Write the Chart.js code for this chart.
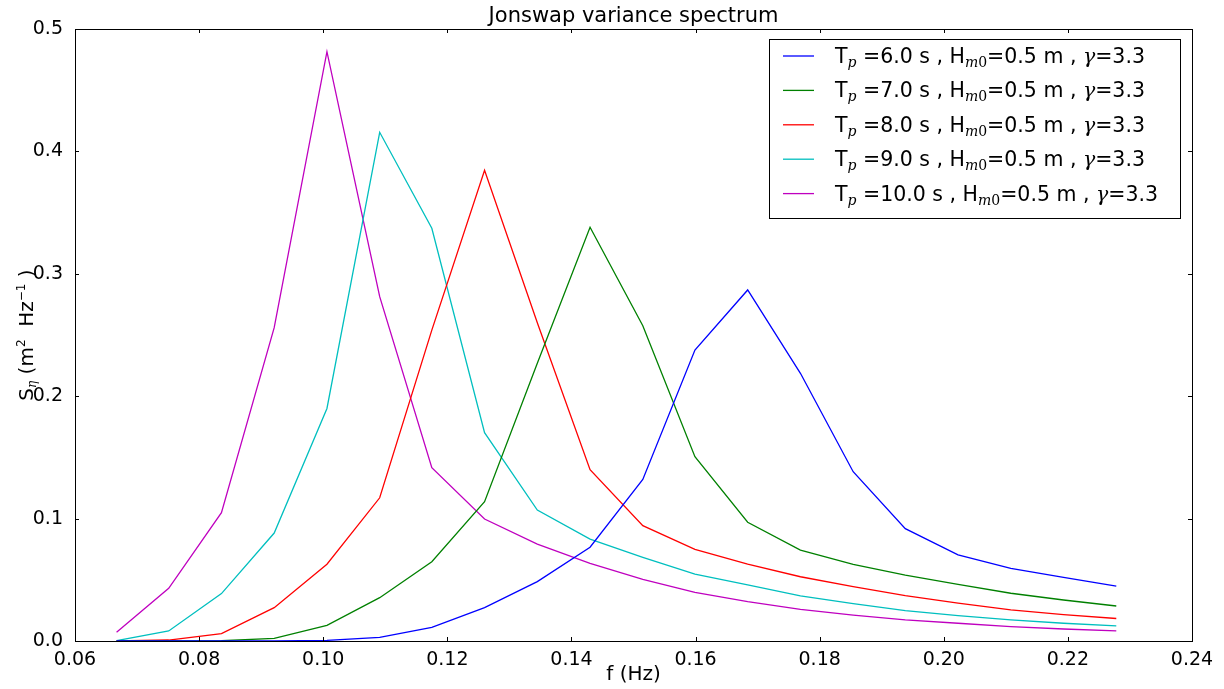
<!DOCTYPE html>
<html>
<head>
<meta charset="utf-8">
<script src="https://cdn.jsdelivr.net/npm/chart.js@4.4.1/dist/chart.umd.min.js"></script>
<style>
  html, body { margin: 0; padding: 0; background: #fff; }
</style>
</head>
<body>
<canvas id="spectrumChart" width="1224" height="689"></canvas>
<script>
// Frequencies (Hz) of the spectrum samples
const freqs = [0.0667, 0.0751, 0.0836, 0.0921, 0.1006, 0.1091, 0.1175, 0.1260, 0.1345, 0.1430,
               0.1515, 0.1599, 0.1684, 0.1769, 0.1854, 0.1938, 0.2023, 0.2108, 0.2193, 0.2278];

// Peak periods (s) and shared parameters
const peakPeriods = [6.0, 7.0, 8.0, 9.0, 10.0];
const hm0 = 0.5;
const gammaPeak = 3.3;

// Variance density S (m2/Hz), one list per peak period
const sTp6  = [0, 0, 0, 0.0001, 0.0005, 0.0030, 0.0112, 0.0272, 0.0485, 0.0766,
               0.1320, 0.2377, 0.2868, 0.2187, 0.1383, 0.0918, 0.0703, 0.0594, 0.0520, 0.0449];
const sTp7  = [0, 0, 0.0002, 0.0022, 0.0128, 0.0354, 0.0648, 0.1138, 0.2270, 0.3380,
               0.2576, 0.1506, 0.0970, 0.0743, 0.0626, 0.0539, 0.0463, 0.0390, 0.0335, 0.0286];
const sTp8  = [0, 0.0008, 0.0060, 0.0272, 0.0627, 0.1170, 0.2540, 0.3846, 0.2600, 0.1400,
               0.0942, 0.0749, 0.0629, 0.0525, 0.0444, 0.0370, 0.0310, 0.0255, 0.0215, 0.0184];
const sTp9  = [0.0003, 0.0082, 0.0387, 0.0882, 0.1900, 0.4156, 0.3372, 0.1702, 0.1070, 0.0833,
               0.0684, 0.0547, 0.0458, 0.0368, 0.0305, 0.0248, 0.0207, 0.0172, 0.0145, 0.0123];
const sTp10 = [0.0071, 0.0430, 0.1048, 0.2560, 0.4815, 0.2813, 0.1416, 0.0997, 0.0792, 0.0635,
               0.0504, 0.0398, 0.0321, 0.0259, 0.0212, 0.0172, 0.0145, 0.0117, 0.0098, 0.0082];

const series = [sTp6, sTp7, sTp8, sTp9, sTp10];
const colors = ['#0000ff', '#008000', '#ff0000', '#00bfbf', '#bf00bf'];

// Axis ticks
const xTicks = [0.06, 0.08, 0.10, 0.12, 0.14, 0.16, 0.18, 0.20, 0.22, 0.24];
const yTicks = [0.0, 0.1, 0.2, 0.3, 0.4, 0.5];

const chartTitle = 'Jonswap variance spectrum';

const SANS = "'DejaVu Sans', sans-serif";
const SERIF_IT = "italic 14px 'DejaVu Serif', serif";

// draw a run of text pieces [text, font, dy] left to right, returns end x
function drawRich(ctx, x, y, parts, measureOnly) {
    for (const p of parts) {
        ctx.font = p[1];
        if (!measureOnly) ctx.fillText(p[0], x, y + p[2]);
        x += ctx.measureText(p[0]).width;
    }
    return x;
}

function legendParts(tp) {
    const main = '20.5px ' + SANS;
    return [
        ['T', main, 0],
        ['p', SERIF_IT, 4],
        [' =' + tp.toFixed(1) + ' s , H', main, 0],
        ['m', SERIF_IT, 4],
        ['0', "14px 'DejaVu Serif', serif", 4],
        ['=' + hm0 + ' m , ', main, 0],
        ['\u03b3', "italic 20.5px 'DejaVu Serif', serif", 0],
        ['=' + gammaPeak, main, 0]
    ];
}

const decorPlugin = {
    id: 'decor',
    afterDraw(chart) {
        const ctx = chart.ctx;
        const a = chart.chartArea;
        const xs = chart.scales.x, ys = chart.scales.y;
        ctx.save();

        // frame
        ctx.strokeStyle = '#000';
        ctx.lineWidth = 1;
        ctx.strokeRect(Math.round(a.left) + 0.5, Math.round(a.top) + 0.5,
                       Math.round(a.right - a.left), Math.round(a.bottom - a.top));

        // inward ticks on all four sides
        ctx.beginPath();
        xTicks.forEach(v => {
            const px = Math.round(xs.getPixelForValue(v)) + 0.5;
            ctx.moveTo(px, a.bottom); ctx.lineTo(px, a.bottom - 4);
            ctx.moveTo(px, a.top); ctx.lineTo(px, a.top + 4);
        });
        yTicks.forEach(v => {
            const py = Math.round(ys.getPixelForValue(v)) + 0.5;
            ctx.moveTo(a.left, py); ctx.lineTo(a.left + 4, py);
            ctx.moveTo(a.right, py); ctx.lineTo(a.right - 4, py);
        });
        ctx.stroke();

        // title, centred over the plot area
        ctx.fillStyle = '#000';
        ctx.font = '21px ' + SANS;
        ctx.textAlign = 'center';
        ctx.textBaseline = 'middle';
        ctx.fillText(chartTitle, (a.left + a.right) / 2, 17);

        // y axis label with sub/superscripts
        ctx.textAlign = 'left';
        ctx.textBaseline = 'alphabetic';
        const yParts = [
            ['S', '20px ' + SANS, 0],
            ['\u03b7', "italic 12px 'DejaVu Serif', serif", 3],
            [' (m', '20px ' + SANS, 0],
            ['2', '12px ' + SANS, -8],
            ['  Hz', '20px ' + SANS, 0],
            ['\u22121', '12px ' + SANS, -8],
            [' )', '20px ' + SANS, 0]
        ];
        const yw = drawRich(ctx, 0, 0, yParts, true);
        ctx.save();
        ctx.translate(26, (a.top + a.bottom) / 2);
        ctx.rotate(-Math.PI / 2);
        drawRich(ctx, -yw / 2, 7, yParts);
        ctx.restore();

        // legend
        const rowH = 34.4;
        let textW = 0;
        peakPeriods.forEach(tp => {
            textW = Math.max(textW, drawRich(ctx, 0, 0, legendParts(tp), true));
        });
        const boxR = a.right - 12, boxT = a.top + 10;
        const boxL = boxR - (14 + 31 + 21 + textW + 22);
        const boxB = boxT + 15 + rowH * peakPeriods.length - 8;
        ctx.fillStyle = '#fff';
        ctx.fillRect(boxL, boxT, boxR - boxL, boxB - boxT);
        ctx.strokeStyle = '#000';
        ctx.strokeRect(Math.round(boxL) + 0.5, Math.round(boxT) + 0.5,
                       Math.round(boxR - boxL), Math.round(boxB - boxT));
        chart.data.datasets.forEach((ds, i) => {
            const base = boxT + 24 + rowH * i;
            ctx.strokeStyle = ds.borderColor;
            ctx.lineWidth = 1.3;
            ctx.beginPath();
            ctx.moveTo(boxL + 14, base - 7);
            ctx.lineTo(boxL + 45, base - 7);
            ctx.stroke();
            ctx.fillStyle = '#000';
            drawRich(ctx, boxL + 66, base, legendParts(peakPeriods[i]));
        });
        ctx.restore();
    }
};

const ctx = document.getElementById('spectrumChart').getContext('2d');
const spectrumChart = new Chart(ctx, {
    type: 'line',
    data: {
        datasets: series.map((vals, i) => ({
            label: 'Tp=' + peakPeriods[i].toFixed(1) + ' s, Hm0=' + hm0 + ' m, gamma=' + gammaPeak,
            data: freqs.map((f, k) => ({ x: f, y: vals[k] })),
            borderColor: colors[i],
            borderWidth: 1.3,
            pointRadius: 0,
            tension: 0,
            fill: false
        }))
    },
    options: {
        responsive: false,
        animation: false,
        devicePixelRatio: 1,
        layout: { padding: { top: 29, right: 32, bottom: 0, left: 0 } },
        plugins: {
            legend: { display: false },
            tooltip: { enabled: false },
            title: { display: false }
        },
        scales: {
            x: {
                type: 'linear',
                min: 0.06,
                max: 0.24,
                afterBuildTicks: (scale) => { scale.ticks = xTicks.map(v => ({ value: v })); },
                afterFit: (scale) => { scale.height = 48; },
                grid: { display: false },
                border: { display: false },
                ticks: {
                    autoSkip: false,
                    maxRotation: 0,
                    padding: 0,
                    color: '#000',
                    font: { family: SANS, size: 19 },
                    callback: (v) => v.toFixed(2)
                },
                title: {
                    display: true,
                    text: 'f (Hz)',
                    color: '#000',
                    font: { family: SANS, size: 20, lineHeight: 1.2 },
                    padding: { top: 0, bottom: 2 }
                }
            },
            y: {
                type: 'linear',
                min: 0,
                max: 0.5,
                afterBuildTicks: (scale) => { scale.ticks = yTicks.map(v => ({ value: v })); },
                afterFit: (scale) => { scale.width = 75; },
                grid: { display: false },
                border: { display: false },
                ticks: {
                    padding: 4,
                    color: '#000',
                    font: { family: SANS, size: 19 },
                    callback: (v) => v.toFixed(1)
                }
            }
        }
    },
    plugins: [decorPlugin]
});
</script>
</body>
</html>
